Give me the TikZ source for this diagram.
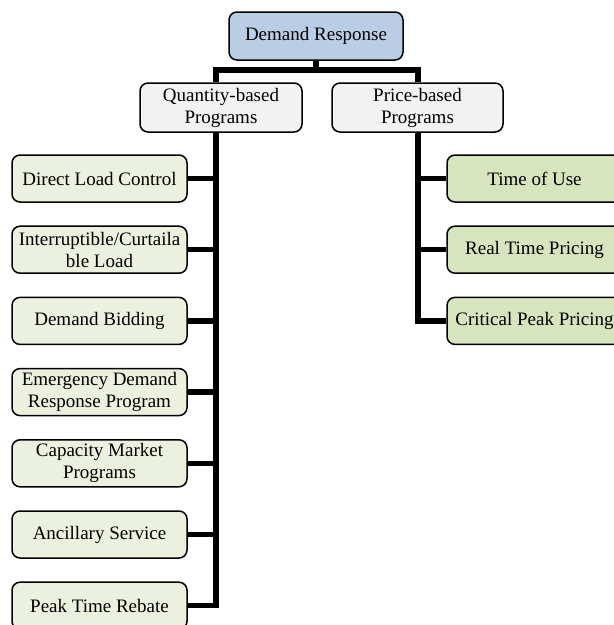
\documentclass[tikz,border=0pt]{standalone}
\usepackage{fontspec}
\setmainfont{Liberation Serif}
\begin{document}
\begin{tikzpicture}[x=1pt,y=-1pt,
  box/.style={draw=black, line width=1.5pt, rounded corners=8pt, align=center,
    inner sep=0pt, font=\fontsize{19}{22}\selectfont, text=black},
  rootbox/.style={box, fill=rootfill, minimum width=174pt, minimum height=48pt},
  groupbox/.style={box, fill=groupfill, minimum height=49pt},
  qbox/.style={box, fill=qfill, minimum width=175pt, minimum height=47pt},
  pbox/.style={box, fill=pfill, minimum width=175pt, minimum height=47pt},
  conn/.style={draw=black, line width=5.5pt, line join=miter}]
\definecolor{rootfill}{HTML}{B9CDE5}
\definecolor{groupfill}{HTML}{F2F2F2}
\definecolor{qfill}{HTML}{EBF1DE}
\definecolor{pfill}{HTML}{D7E4BD}
\useasboundingbox (0,0) rectangle (614,625);

% top level
\node[rootbox] (DR) at (316,36) {Demand Response};
\node[groupbox, minimum width=162pt] (QB) at (221,107.5) {Quantity-based\\Programs};
\node[groupbox, minimum width=171pt] (PB) at (417.5,107.5) {Price-based\\Programs};

% quantity-based programs
\node[qbox] (DLC) at (99.5,178.5) {Direct Load Control};
\node[qbox] (ICL) at (99.5,249.7) {Interruptible/Curtaila\\ble Load};
\node[qbox] (DB)  at (99.5,320.9) {Demand Bidding};
\node[qbox] (EDR) at (99.5,392.1) {Emergency Demand\\Response Program};
\node[qbox] (CMP) at (99.5,463.3) {Capacity Market\\Programs};
\node[qbox] (AS)  at (99.5,534.5) {Ancillary Service};
\node[qbox] (PTR) at (99.5,605.7) {Peak Time Rebate};

% price-based programs
\node[pbox] (TOU) at (534.5,178.5) {Time of Use};
\node[pbox] (RTP) at (534.5,249.7) {Real Time Pricing};
\node[pbox] (CPP) at (534.5,320.9) {Critical Peak Pricing};

% trunk positions
\coordinate (qtop) at (216,70);
\coordinate (ptop) at (418,70);

% root to groups
\draw[conn] (DR.south) -- (DR.south |- qtop);
\draw[conn] (qtop |- QB.north) -- (qtop) -- (ptop) -- (ptop |- PB.north);

% quantity trunk and branches
\draw[conn] (qtop |- QB.south) -- (qtop |- PTR.east) -- (PTR.east);
\foreach \n in {DLC,ICL,DB,EDR,CMP,AS}
  \draw[conn] (qtop |- \n.east) -- (\n.east);

% price trunk and branches
\draw[conn] (ptop |- PB.south) -- (ptop |- CPP.west) -- (CPP.west);
\foreach \n in {TOU,RTP}
  \draw[conn] (ptop |- \n.west) -- (\n.west);
\end{tikzpicture}
\end{document}
